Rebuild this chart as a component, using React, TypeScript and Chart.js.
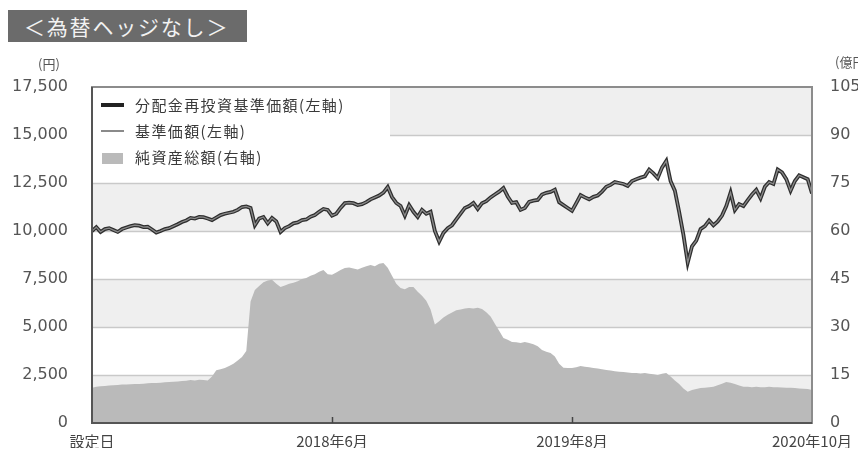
import React, { useEffect, useRef } from "react";
import { Chart, registerables } from "chart.js";

Chart.register(...registerables);

const tickPositions = [0, 56, 112, 168];
const tickLabels = ["設定日", "2018年6月", "2019年8月", "2020年10月"];
const leftTickValues = [0, 2500, 5000, 7500, 10000, 12500, 15000, 17500];
const rightTickValues = [0, 15, 30, 45, 60, 75, 90, 105];

// 分配金再投資基準価額（円）— 分配なしのため基準価額と同一
const navReinvested = [
  10000, 10200, 9950, 10100, 10150, 10050, 9950, 10100, 10180, 10250,
  10300, 10280, 10200, 10220, 10080, 9920, 10000, 10100, 10150, 10250,
  10350, 10470, 10550, 10680, 10650, 10730, 10720, 10650, 10570, 10700,
  10830, 10900, 10950, 11000, 11100, 11250, 11280, 11200, 10300, 10650,
  10730, 10400, 10680, 10500, 9950, 10150, 10250, 10400, 10450, 10570,
  10600, 10750, 10830, 11000, 11150, 11100, 10800, 10900, 11200, 11450,
  11480, 11450, 11350, 11400, 11500, 11650, 11750, 11850, 12000, 12290,
  11770, 11460, 11300, 10800, 11350, 11000, 10730, 11100, 10900, 11000,
  10000, 9450, 9900, 10150, 10300, 10600, 10900, 11200, 11300, 11460,
  11150, 11450, 11550, 11750, 11900, 12050, 12240, 11800, 11460, 11500,
  11100, 11200, 11520, 11580, 11620, 11900, 11990, 12040, 12150, 11500,
  11350, 11200, 11050, 11450, 11870, 11750, 11650, 11780, 11850, 12050,
  12300, 12400, 12550, 12500, 12450, 12350, 12600, 12700, 12780, 12850,
  13200, 13000, 12760, 13300, 13650, 12600, 12100, 11000, 9800, 8350,
  9200, 9500, 10100, 10250, 10550, 10300, 10500, 10800, 11300, 12000,
  11090, 11400, 11300, 11610, 11900, 12140, 11700, 12300, 12550, 12450,
  13200, 13050, 12700, 12100, 12600, 12900, 12800, 12700, 11950,
];

// 基準価額（円）
const navBase = navReinvested;

// 純資産総額（億円）
const netAssets = [
  11.0, 11.3, 11.5, 11.6, 11.7, 11.8, 11.9, 12.0, 12.0, 12.1,
  12.2, 12.2, 12.3, 12.4, 12.5, 12.5, 12.6, 12.7, 12.8, 12.9,
  13.0, 13.1, 13.2, 13.4, 13.3, 13.5, 13.4, 13.3, 14.5, 16.5,
  16.8, 17.2, 17.8, 18.5, 19.5, 20.6, 22.5, 38.0, 41.6, 42.8,
  44.0, 44.5, 44.8, 43.5, 42.5, 43.0, 43.5, 43.8, 44.3, 45.0,
  45.3, 46.0, 46.5, 47.3, 47.8, 46.5, 46.3, 47.0, 47.8, 48.4,
  48.6, 48.3, 48.0, 48.5, 49.0, 49.4, 49.0, 49.8, 50.0, 48.5,
  46.0, 43.5, 42.2, 41.8, 42.5, 42.5, 41.0, 39.8, 38.2, 35.5,
  30.8, 31.8, 33.0, 33.8, 34.5, 35.2, 35.5, 35.8, 35.9, 35.8,
  36.0, 35.6, 34.6, 33.3, 31.0, 28.8, 26.6, 26.0, 25.3, 25.2,
  25.0, 25.3, 25.0, 24.6, 24.0, 22.8, 22.3, 21.9, 20.8, 18.5,
  17.3, 17.2, 17.2, 17.4, 17.8, 17.6, 17.4, 17.2, 17.0, 16.8,
  16.6, 16.4, 16.2, 16.0, 15.9, 15.8, 15.6, 15.6, 15.5, 15.6,
  15.4, 15.2, 15.0, 15.4, 15.6, 14.5, 13.3, 12.2, 10.8, 9.8,
  10.3, 10.6, 10.9, 11.0, 11.2, 11.3, 11.8, 12.3, 12.8, 12.6,
  12.2, 11.7, 11.3, 11.3, 11.2, 11.3, 11.2, 11.2, 11.3, 11.2,
  11.2, 11.1, 11.0, 11.0, 10.9, 10.8, 10.7, 10.6, 10.3,
];

const legendItems = ["分配金再投資基準価額(左軸)", "基準価額(左軸)", "純資産総額(右軸)"];

const W = 850;
const H = 440;

const toPoints = (arr: number[]) => arr.map((v, i) => ({ x: i, y: v }));

const framePlugin = {
  id: "frame",
  beforeDatasetsDraw(chart: any) {
    const { ctx, chartArea: a, scales } = chart;
    const y = scales.y;
    ctx.save();
    ctx.fillStyle = "#ffffff";
    ctx.fillRect(a.left, a.top, a.right - a.left, a.bottom - a.top);
    for (let i = 0; i < leftTickValues.length - 1; i++) {
      if (i % 2 === 0) {
        const y0 = y.getPixelForValue(leftTickValues[i]);
        const y1 = y.getPixelForValue(leftTickValues[i + 1]);
        ctx.fillStyle = "#efefef";
        ctx.fillRect(a.left, y1, a.right - a.left, y0 - y1);
      }
    }
    ctx.strokeStyle = "#c9c9c9";
    ctx.lineWidth = 1.5;
    for (let i = 1; i < leftTickValues.length - 1; i++) {
      const py = Math.round(y.getPixelForValue(leftTickValues[i])) + 0.5;
      ctx.beginPath();
      ctx.moveTo(a.left, py);
      ctx.lineTo(a.right, py);
      ctx.stroke();
    }
    // legend background
    ctx.fillStyle = "#ffffff";
    ctx.fillRect(a.left, a.top, 298, 88);
    ctx.restore();
  },
  afterDatasetsDraw(chart: any) {
    const { ctx, chartArea: a, scales } = chart;
    const x = scales.x;
    ctx.save();
    ctx.strokeStyle = "#8c8c8c";
    ctx.lineWidth = 2;
    ctx.strokeRect(a.left, a.top, a.right - a.left, a.bottom - a.top);
    ctx.strokeStyle = "#555555";
    ctx.beginPath();
    ctx.moveTo(a.left, a.top);
    ctx.lineTo(a.left, a.bottom);
    ctx.lineTo(a.right, a.bottom);
    ctx.stroke();
    ctx.strokeStyle = "#444444";
    ctx.lineWidth = 1.5;
    [tickPositions[1], tickPositions[2]].forEach((v) => {
      const px = Math.round(x.getPixelForValue(v)) + 0.5;
      ctx.beginPath();
      ctx.moveTo(px, a.bottom);
      ctx.lineTo(px, a.bottom - 6);
      ctx.stroke();
    });
    ctx.fillStyle = "#555555";
    ctx.font = '13px "Noto Sans CJK JP"';
    ctx.textBaseline = "middle";
    ctx.textAlign = "center";
    ctx.fillText("(円)", 41, 56);
    ctx.textAlign = "left";
    ctx.fillText("(億円)", 827, 54);
    ctx.restore();
  },
};

export default function App() {
  const ref = useRef<HTMLCanvasElement | null>(null);

  useEffect(() => {
    if (!ref.current) return;
    const chart = new Chart(ref.current, {
      type: "line",
      data: {
        datasets: [
          {
            label: legendItems[1],
            data: toPoints(navBase),
            borderColor: "#8a8a8a",
            borderWidth: 1.3,
            pointRadius: 0,
            fill: false,
            yAxisID: "y",
            order: 0,
          },
          {
            label: legendItems[0],
            data: toPoints(navReinvested),
            borderColor: "#2e2e2e",
            borderWidth: 3.8,
            pointRadius: 0,
            fill: false,
            yAxisID: "y",
            order: 1,
          },
          {
            label: legendItems[2],
            data: toPoints(netAssets),
            borderColor: "rgba(0,0,0,0)",
            borderWidth: 0,
            backgroundColor: "#bababa",
            pointRadius: 0,
            fill: "origin",
            yAxisID: "y1",
            order: 2,
          },
        ],
      },
      options: {
        animation: false,
        responsive: true,
        maintainAspectRatio: false,
        layout: { padding: { top: 79, left: 0, right: 0, bottom: 0 } },
        plugins: { legend: { display: false }, tooltip: { enabled: false } },
        scales: {
          x: {
            type: "linear",
            min: 0,
            max: 168,
            grid: { display: false, drawTicks: true, tickLength: 9 },
            border: { display: false },
            afterBuildTicks: (s: any) => {
              s.ticks = tickPositions.map((v) => ({ value: v }));
            },
            afterFit: (s: any) => {
              s.height = 25;
            },
            ticks: {
              autoSkip: false,
              maxRotation: 0,
              padding: 0,
              color: "#444444",
              font: { family: '"Noto Sans CJK JP"', size: 15 },
              callback: (v: any) => {
                const k = tickPositions.indexOf(Number(v));
                return k >= 0 ? tickLabels[k] : "";
              },
            },
          },
          y: {
            position: "left",
            min: 0,
            max: 17500,
            grid: { display: false, drawTicks: true, tickLength: 20 },
            border: { display: false },
            afterBuildTicks: (s: any) => {
              s.ticks = leftTickValues.map((v) => ({ value: v }));
            },
            afterFit: (s: any) => {
              s.width = 84;
            },
            ticks: {
              padding: 4,
              color: "#555555",
              font: { family: '"DejaVu Sans"', size: 16 },
              callback: (v: any) => Number(v).toLocaleString("en-US"),
            },
          },
          y1: {
            position: "right",
            min: 0,
            max: 105,
            grid: { display: false, drawTicks: true, tickLength: 14 },
            border: { display: false },
            afterBuildTicks: (s: any) => {
              s.ticks = rightTickValues.map((v) => ({ value: v }));
            },
            afterFit: (s: any) => {
              s.width = 46;
            },
            ticks: {
              padding: 4,
              color: "#555555",
              font: { family: '"DejaVu Sans"', size: 16 },
            },
          },
        },
      },
      plugins: [framePlugin],
    } as any);
    return () => chart.destroy();
  }, []);

  const legendText: React.CSSProperties = {
    position: "absolute",
    left: 127,
    height: 24,
    lineHeight: "24px",
    fontFamily: '"Noto Sans CJK JP"',
    fontSize: 15,
    letterSpacing: "1.4px",
    color: "#3a3a3a",
    whiteSpace: "nowrap",
  };

  return (
    <div style={{ position: "relative", width: W, height: H, overflow: "hidden" }}>
      <div style={{ position: "absolute", left: 0, top: 0, width: W, height: H }}>
        <canvas ref={ref} />
      </div>
      <div
        style={{
          position: "absolute",
          left: 0,
          top: 2,
          width: 239,
          height: 32,
          background: "#6b6b6b",
          color: "#f2f2f2",
          fontFamily: '"Noto Sans CJK JP"',
          fontSize: 21,
          lineHeight: "32px",
          letterSpacing: "1.8px",
          paddingLeft: 16,
          boxSizing: "border-box",
          whiteSpace: "nowrap",
        }}
      >
        ＜為替ヘッジなし＞
      </div>
      <div style={{ position: "absolute", left: 93, top: 95, width: 23, height: 3.5, background: "#222222" }} />
      <div style={{ ...legendText, top: 85 }}>{legendItems[0]}</div>
      <div style={{ position: "absolute", left: 93, top: 122, width: 23, height: 1.5, background: "#8a8a8a" }} />
      <div style={{ ...legendText, top: 111 }}>{legendItems[1]}</div>
      <div style={{ position: "absolute", left: 94, top: 145, width: 21, height: 11, background: "#bababa" }} />
      <div style={{ ...legendText, top: 137 }}>{legendItems[2]}</div>
    </div>
  );
}
